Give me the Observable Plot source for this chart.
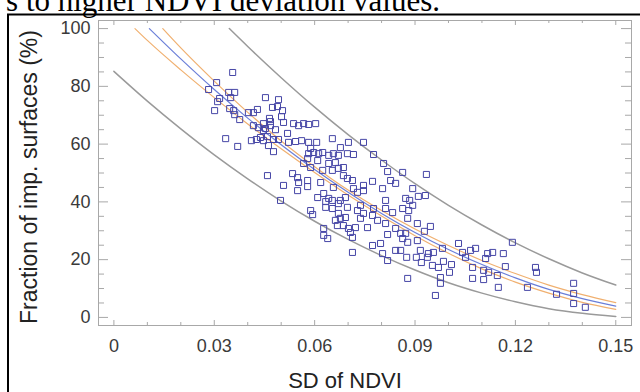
<!DOCTYPE html>
<html><head><meta charset="utf-8">
<script src="https://cdn.jsdelivr.net/npm/d3@7"></script>
<script src="https://cdn.jsdelivr.net/npm/@observablehq/plot@0.6"></script>
<style>
html,body{margin:0;padding:0;background:#fff;}
#wrap{position:relative;width:640px;height:392px;overflow:hidden;background:#fff;}
</style></head><body><div id="wrap"></div>
<script>
// Scatter: SD of NDVI vs fraction of impervious surfaces (%)
const sdNdvi = [
0.0355,0.0307,0.0283,0.0343,0.0361,0.0349,0.0316,0.0310,0.0301,0.0346,
0.0358,0.0361,0.0376,0.0402,0.0417,0.0429,0.0334,0.0370,0.0411,0.0426,
0.0417,0.0432,0.0447,0.0453,0.0492,0.0474,0.0489,0.0504,0.0501,0.0465,
0.0468,0.0447,0.0453,0.0468,0.0483,0.0507,0.0519,0.0537,0.0552,0.0567,
0.0582,0.0603,0.0438,0.0459,0.0477,0.0447,0.0492,0.0462,0.0477,0.0522,
0.0543,0.0561,0.0582,0.0606,0.0588,0.0597,0.0582,0.0612,0.0624,0.0642,
0.0656,0.0671,0.0653,0.0677,0.0698,0.0579,0.0567,0.0588,0.0609,0.0624,
0.0642,0.0662,0.0671,0.0686,0.0686,0.0698,0.0459,0.0534,0.0549,0.0552,
0.0579,0.0618,0.0507,0.0549,0.0656,0.0627,0.0642,0.0633,0.0653,0.0633,
0.0653,0.0671,0.0692,0.0698,0.0671,0.0677,0.0692,0.0668,0.0686,0.0627,
0.0588,0.0594,0.0498,0.0701,0.0579,0.0609,0.0627,0.0639,
0.0701,0.0746,0.0716,0.0776,0.0653,0.0713,0.0806,0.0818,0.0863,0.0934,
0.0773,0.0803,0.0827,0.0842,0.0746,0.0746,0.0716,0.0728,0.0893,0.0910,
0.0931,
0.0677,0.0812,0.0776,0.0812,0.0833,0.0863,0.0872,0.0884,0.0893,0.0881,
0.0737,0.0728,0.0746,0.0662,0.0737,0.0773,0.0878,0.0907,0.0946,0.0812,
0.0788,0.0842,0.0722,0.0758,
0.0713,0.0773,0.0797,0.0803,0.0818,0.0818,0.0842,0.0857,0.0875,0.0878,
0.0904,0.0919,0.0937,0.0940,0.0955,0.0982,0.0952,0.0970,0.0976,0.0976,
0.1003,0.0985,0.1009,0.0878,0.0961,0.1030,0.0872,0.0907,0.0707,0.0713,
0.0857,0.0863,0.0928,0.0916,
0.1042,0.1066,0.1081,0.1117,0.1132,0.1111,0.1164,0.1191,0.1072,0.1105,
0.1120,0.1146,0.1170,0.1072,0.1105,0.1149,0.1260,0.1263,0.1236,0.1323,
0.1374,0.1374,0.1374,0.1409,0.1051
];
const impFrac = [
84.8,81.3,78.9,77.9,77.9,76.1,75.8,74.7,71.6,72.3,
71.6,70.2,68.5,70.9,70.9,72.0,61.9,59.2,61.2,61.6,
66.4,65.7,67.1,76.1,75.4,72.7,73.0,71.6,69.5,68.9,
67.8,64.7,65.4,66.4,65.0,67.5,63.7,67.1,66.4,67.1,
66.8,67.1,62.3,62.6,61.6,61.2,61.6,59.5,57.4,60.6,
60.9,61.2,60.6,60.6,58.5,57.1,56.7,56.7,57.1,56.1,
56.7,56.1,61.9,58.8,56.7,55.0,53.3,51.9,54.3,50.9,
53.3,53.6,51.6,51.9,49.1,48.1,49.1,49.8,48.4,46.7,
47.4,46.7,45.7,43.9,45.0,42.9,41.2,40.1,40.5,38.1,
37.7,39.4,41.5,38.1,36.0,34.3,34.6,31.8,31.8,30.8,
37.0,35.6,40.5,30.8,45.3,41.5,28.4,27.3,
60.6,60.6,56.4,56.4,50.9,47.4,53.3,50.5,50.2,49.5,
47.1,44.6,47.4,46.4,45.7,43.9,44.6,43.3,44.6,41.9,
42.2,
40.5,40.5,37.7,37.7,36.3,37.7,41.2,40.5,38.8,37.0,
38.8,37.0,36.0,33.6,34.3,35.3,34.3,32.5,31.5,32.5,
33.6,30.8,31.1,31.1,
22.5,24.9,25.6,22.1,19.7,28.7,23.2,23.2,20.8,26.0,
20.8,19.0,20.8,22.1,22.5,23.9,18.0,17.3,13.8,11.8,
15.6,19.4,18.3,13.5,7.6,25.6,29.1,26.6,29.4,27.7,
29.1,27.3,29.8,23.2,
22.5,23.2,23.9,22.1,22.5,20.4,22.1,26.0,17.3,16.3,
15.6,14.5,17.6,13.5,13.1,10.4,17.3,15.6,10.4,8.0,
11.8,8.3,4.8,3.5,20.8
];

// Fitted curve (blue)
const fitX = [0.0106,0.02,0.03,0.04,0.05,0.06,0.07,0.08,0.09,0.10,0.11,0.12,0.13,0.14,0.15];
const fitY = [100,89.5,78.9,69.0,59.8,51.2,43.3,36.0,29.4,23.5,18.3,13.7,9.7,6.5,3.9];
// Confidence band (orange)
const confUpX = [0.0146,0.02,0.03,0.04,0.05,0.06,0.07,0.08,0.09,0.10,0.11,0.12,0.13,0.14,0.15];
const confUpY = [100,93.3,81.8,71.0,61.1,52.2,44.1,37.0,30.6,24.9,19.7,15.2,11.2,7.9,5.1];
const confLoX = [0.0063,0.01,0.02,0.03,0.04,0.05,0.06,0.07,0.08,0.09,0.10,0.11,0.12,0.13,0.14,0.15];
const confLoY = [100,95.9,85.7,76.1,67.0,58.4,50.2,42.4,35.1,28.3,22.2,16.8,12.2,8.4,5.2,2.8];
// Prediction band (grey)
const predUpX = [0.0345,0.04,0.05,0.06,0.07,0.08,0.09,0.10,0.11,0.12,0.13,0.14,0.15];
const predUpY = [100,93.8,83.0,72.8,63.3,54.5,46.3,38.8,32.0,25.8,20.3,15.4,11.2];
const predLoX = [0,0.01,0.02,0.03,0.04,0.05,0.06,0.07,0.08,0.09,0.10,0.11,0.12,0.13,0.14,0.15];
const predLoY = [85.2,74.9,65.3,56.3,48.0,40.3,33.3,27.0,21.4,16.4,12.0,8.4,5.4,3.0,1.4,0.35];

// Axis ticks
const xMajor = [0,0.03,0.06,0.09,0.12,0.15];
const xMinor = [0.01,0.02,0.04,0.05,0.07,0.08,0.10,0.11,0.13,0.14];
const yMajor = [0,20,40,60,80,100];
const yMinor = [5,10,15,25,30,35,45,50,55,65,70,75,85,90,95];

const titleFragment = "s to higher NDVI deviation values.";
const xLabel = "SD of NDVI";
const yLabel = "Fraction of imp. surfaces (%)";

const points = sdNdvi.map((x, i) => ({x, y: impFrac[i]}));

const W = 640, H = 392, mL = 98, mR = 9, mT = 20, mB = 67;
const fw = W - mL - mR, fh = H - mT - mB;
const axisGrey = "#a8a8a8";

const chart = Plot.plot({
  width: W, height: H,
  marginLeft: mL, marginRight: mR, marginTop: mT, marginBottom: mB,
  style: {fontFamily: "'Liberation Sans', Arial, sans-serif", fontSize: "18px", color: "#3a3a3a", background: "#fff", overflow: "visible"},
  x: {domain: [-0.0046, 0.1547]},
  y: {domain: [-2.8, 102.8]},
  marks: [
    Plot.ruleX(xMajor, {x: d => d, insetTop: fh - 5, stroke: axisGrey}),
    Plot.ruleX(xMinor, {x: d => d, insetTop: fh - 3, stroke: axisGrey}),
    Plot.ruleX(xMajor, {x: d => d, insetBottom: fh - 5, stroke: axisGrey}),
    Plot.ruleX(xMinor, {x: d => d, insetBottom: fh - 3, stroke: axisGrey}),
    Plot.ruleY(yMajor, {y: d => d, insetRight: fw - 10, stroke: axisGrey}),
    Plot.ruleY(yMinor, {y: d => d, insetRight: fw - 6, stroke: axisGrey}),
    Plot.ruleY(yMajor, {y: d => d, insetLeft: fw - 10, stroke: axisGrey}),
    Plot.ruleY(yMinor, {y: d => d, insetLeft: fw - 6, stroke: axisGrey}),
    Plot.frame({stroke: axisGrey}),
    Plot.axisX({ticks: xMajor, tickSize: 0, tickPadding: 14, tickFormat: d => d === 0 ? "0" : d.toFixed(2), label: null}),
    Plot.axisY({ticks: yMajor, tickSize: 0, tickPadding: 8, label: null}),
    Plot.line(predUpY, {x: predUpX, y: predUpY, stroke: "#9a9a9a", strokeWidth: 1.5, curve: "monotone-x"}),
    Plot.line(predLoY, {x: predLoX, y: predLoY, stroke: "#9a9a9a", strokeWidth: 1.5, curve: "monotone-x"}),
    Plot.line(confUpY, {x: confUpX, y: confUpY, stroke: "#f0b070", strokeWidth: 1.2, curve: "monotone-x"}),
    Plot.line(confLoY, {x: confLoX, y: confLoY, stroke: "#f0b070", strokeWidth: 1.2, curve: "monotone-x"}),
    Plot.line(fitY, {x: fitX, y: fitY, stroke: "#6b7fd8", strokeWidth: 1.2, curve: "monotone-x"}),
    Plot.dot(points, {x: "x", y: "y", symbol: "square", r: 3.4, stroke: "#4646a6", strokeWidth: 1, fill: "none"})
  ]
});

const svg = d3.select(chart);
svg.append("text")
  .attr("x", 440).attr("y", 11).attr("text-anchor", "end")
  .style("font-family", "'Liberation Serif', 'Times New Roman', serif")
  .style("font-size", "31px").attr("fill", "#000")
  .text(titleFragment);
svg.append("rect")
  .attr("x", 8).attr("y", 14.5).attr("width", 700).attr("height", 500)
  .attr("fill", "none").attr("stroke", "#000").attr("stroke-width", 2);
svg.append("text")
  .attr("x", 345).attr("y", 388).attr("text-anchor", "middle")
  .style("font-size", "22px").attr("fill", "#222")
  .text(xLabel);
svg.append("text")
  .attr("transform", "translate(37,177) rotate(-90)").attr("text-anchor", "middle")
  .style("font-size", "23px").attr("fill", "#222")
  .text(yLabel);

document.getElementById("wrap").appendChild(chart);
</script>
</body></html>
